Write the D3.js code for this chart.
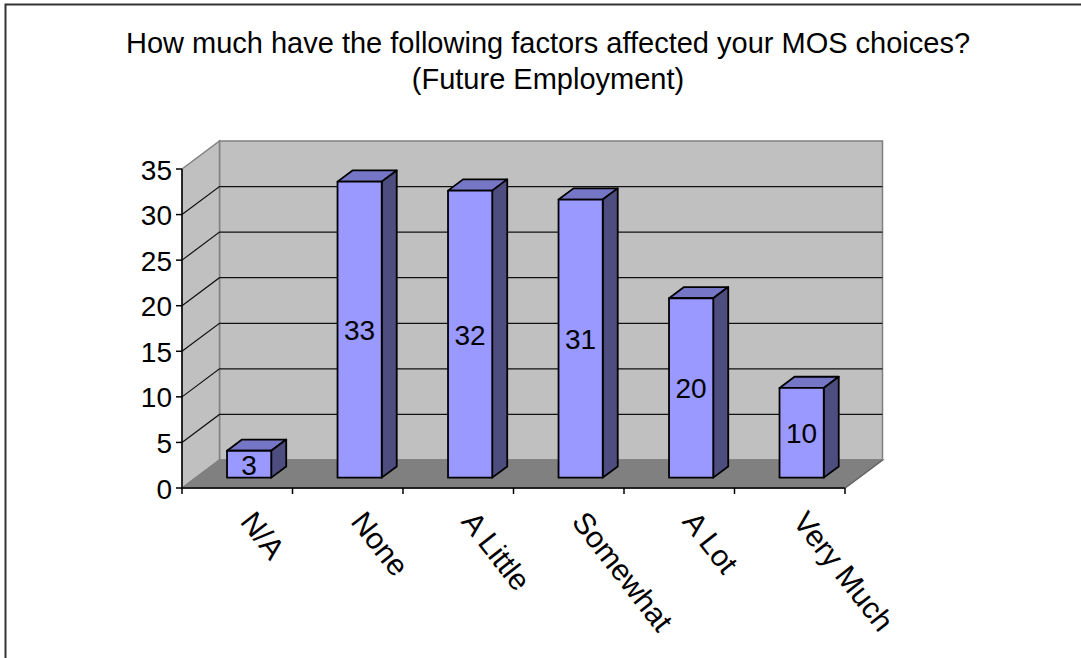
<!DOCTYPE html>
<html>
<head>
<meta charset="utf-8">
<script src="https://cdn.jsdelivr.net/npm/d3@7"></script>
<style>
  body { margin: 0; background: #fff; }
  text { font-family: "Liberation Sans", Arial, sans-serif; fill: #000; }
</style>
</head>
<body>
<script>
// chart data
var categories = ["N/A", "None", "A Little", "Somewhat", "A Lot", "Very Much"];
var counts = [3, 33, 32, 31, 20, 10];
var yTicks = [0, 5, 10, 15, 20, 25, 30, 35];
var titleLines = ["How much have the following factors affected your MOS choices?", "(Future Employment)"];

var W = 1081, H = 658;
var front = {left: 182, right: 845, bottom: 488, top: 169};
var depth = {dx: 37.5, dy: -28};   // wall depth offset
var barFront = 0.37, barDepth = 0.4; // fraction of depth

var svg = d3.select("body").append("svg")
  .attr("width", W)
  .attr("height", H);

// outer chart border
svg.append("rect")
  .attr("x", 5.5).attr("y", 4.5)
  .attr("width", W + 20).attr("height", H + 20)
  .attr("fill", "none")
  .attr("stroke", "#333")
  .attr("stroke-width", 2);

var x = d3.scaleBand().domain(categories).range([front.left, front.right]).padding(0);
var y = d3.scaleLinear().domain([0, 35]).range([front.bottom, front.top]);

// bars sit a bit into the depth and render slightly shorter
var barBase = front.bottom + barFront * depth.dy;
var yBar = d3.scaleLinear().domain([0, 35]).range([barBase, barBase - 35 * 8.97]);

function pts(arr) { return arr.map(function(p) { return p.join(","); }).join(" "); }

// back wall
svg.append("polygon")
  .attr("points", pts([
    [front.left + depth.dx, y(35) + depth.dy],
    [front.right + depth.dx, y(35) + depth.dy],
    [front.right + depth.dx, y(0) + depth.dy],
    [front.left + depth.dx, y(0) + depth.dy]
  ]))
  .attr("fill", "#c0c0c0")
  .attr("stroke", "#808080")
  .attr("stroke-width", 1.5);

// side wall
svg.append("polygon")
  .attr("points", pts([
    [front.left, y(35)],
    [front.left + depth.dx, y(35) + depth.dy],
    [front.left + depth.dx, y(0) + depth.dy],
    [front.left, y(0)]
  ]))
  .attr("fill", "#c0c0c0")
  .attr("stroke", "#808080")
  .attr("stroke-width", 1.5);

// floor
svg.append("polygon")
  .attr("points", pts([
    [front.left, y(0)],
    [front.left + depth.dx, y(0) + depth.dy],
    [front.right + depth.dx, y(0) + depth.dy],
    [front.right, y(0)]
  ]))
  .attr("fill", "#808080")
  .attr("stroke", "#808080")
  .attr("stroke-width", 1.5);

// gridlines on side and back walls
var grid = yTicks.filter(function(v) { return v > 0 && v < 35; });
svg.append("g").selectAll("path")
  .data(grid)
  .join("path")
  .attr("d", function(v) {
    return "M" + front.left + "," + y(v) +
      "L" + (front.left + depth.dx) + "," + (y(v) + depth.dy) +
      "L" + (front.right + depth.dx) + "," + (y(v) + depth.dy);
  })
  .attr("fill", "none")
  .attr("stroke", "#111")
  .attr("stroke-width", 1.2);

// bars
var bw = x.bandwidth() * 0.4;
var bdx = depth.dx * barDepth, bdy = depth.dy * barDepth;

var bars = svg.append("g").selectAll("g")
  .data(categories)
  .join("g");

bars.each(function(c, i) {
  var g = d3.select(this);
  var x0 = x(c) + x.bandwidth() / 2 - bw / 2 + barFront * depth.dx - 2;
  var x1 = x0 + bw;
  var yt = yBar(counts[i]), yb = yBar(0);

  g.append("polygon") // top
    .attr("points", pts([[x0, yt], [x0 + bdx, yt + bdy], [x1 + bdx, yt + bdy], [x1, yt]]))
    .attr("fill", "#7676c6");
  g.append("polygon") // side
    .attr("points", pts([[x1, yt], [x1 + bdx, yt + bdy], [x1 + bdx, yb + bdy], [x1, yb]]))
    .attr("fill", "#4d4d80");
  g.append("rect") // front
    .attr("x", x0).attr("y", yt)
    .attr("width", bw).attr("height", yb - yt)
    .attr("fill", "#9999ff");
  g.selectAll("polygon, rect")
    .attr("stroke", "#000")
    .attr("stroke-width", 1.8)
    .attr("stroke-linejoin", "round");

  g.append("text")
    .attr("x", (x0 + x1) / 2)
    .attr("y", (yt + yb) / 2 + 1)
    .attr("text-anchor", "middle")
    .attr("dominant-baseline", "central")
    .style("font-size", "28px")
    .text(counts[i]);
});

// value axis
svg.append("line")
  .attr("x1", front.left).attr("x2", front.left)
  .attr("y1", y(0)).attr("y2", y(35))
  .attr("stroke", "#000").attr("stroke-width", 1.5);

var yAxis = svg.append("g");
yAxis.selectAll("line")
  .data(yTicks)
  .join("line")
  .attr("x1", front.left - 6).attr("x2", front.left)
  .attr("y1", function(v) { return y(v); })
  .attr("y2", function(v) { return y(v); })
  .attr("stroke", "#000").attr("stroke-width", 1.5);
yAxis.selectAll("text")
  .data(yTicks)
  .join("text")
  .attr("x", front.left - 10)
  .attr("y", function(v) { return y(v) + 1; })
  .attr("text-anchor", "end")
  .attr("dominant-baseline", "central")
  .style("font-size", "28px")
  .text(function(v) { return v; });

// category axis
svg.append("line")
  .attr("x1", front.left).attr("x2", front.right)
  .attr("y1", y(0)).attr("y2", y(0))
  .attr("stroke", "#000").attr("stroke-width", 1.5);
svg.append("line")
  .attr("x1", front.right).attr("x2", front.right + depth.dx)
  .attr("y1", y(0)).attr("y2", y(0) + depth.dy)
  .attr("stroke", "#666").attr("stroke-width", 1.5);

var edges = categories.map(function(c) { return x(c); }).concat([front.right]);
svg.append("g").selectAll("line")
  .data(edges)
  .join("line")
  .attr("x1", function(d) { return d; }).attr("x2", function(d) { return d; })
  .attr("y1", y(0)).attr("y2", y(0) + 6)
  .attr("stroke", "#000").attr("stroke-width", 1.5);

svg.append("g").selectAll("text")
  .data(categories)
  .join("text")
  .attr("transform", function(c) {
    return "translate(" + (x(c) + x.bandwidth() / 2 + 2) + "," + 522 + ") rotate(52)";
  })
  .attr("text-anchor", "start")
  .style("font-size", "30px")
  .text(function(c) { return c; });

// title
svg.append("g").selectAll("text")
  .data(titleLines)
  .join("text")
  .attr("x", 548)
  .attr("y", function(d, i) { return 53 + i * 36; })
  .attr("text-anchor", "middle")
  .style("font-size", "29px")
  .text(function(d) { return d; });
</script>
</body>
</html>
